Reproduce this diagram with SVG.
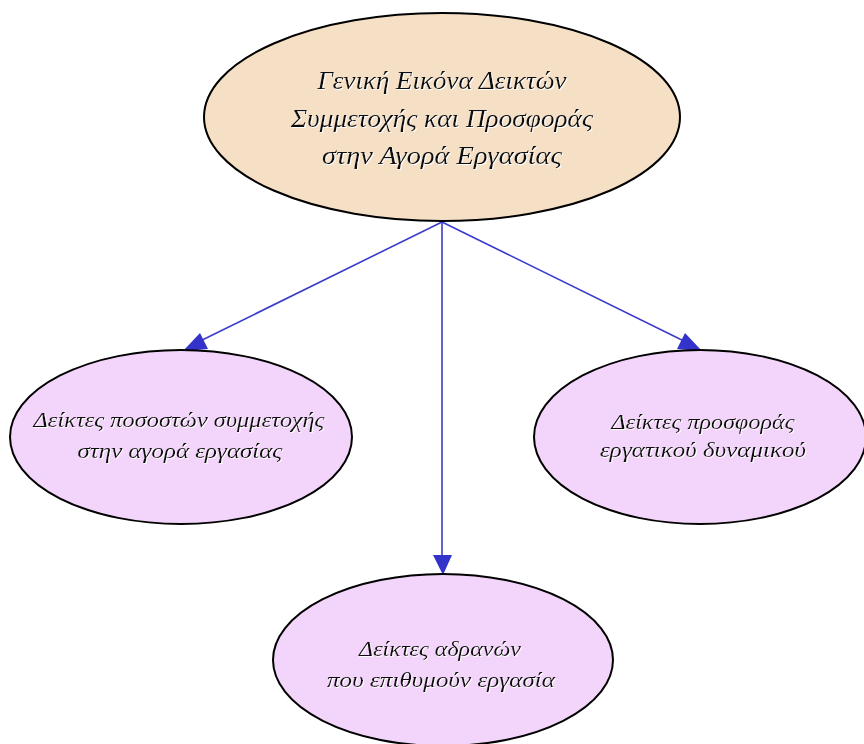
<svg xmlns="http://www.w3.org/2000/svg" width="864" height="744" viewBox="0 0 864 744">
<defs>
<style>
.node ellipse{stroke:#000;stroke-width:2}
.top ellipse{fill:#f5dfc5}
.leaf ellipse{fill:#f3d4fa}
text{font-family:"Liberation Serif","DejaVu Serif",serif;font-style:italic;fill:#111;text-anchor:middle;filter:url(#sh)}
.t1{font-size:25px}
.t2{font-size:22px}
.edge{stroke:#3b3bcc;stroke-width:1.6;fill:none}
.head{fill:#3333cc}
</style>
<filter id="sh" x="-5%" y="-20%" width="110%" height="140%">
<feDropShadow dx="1" dy="1" stdDeviation="0.3" flood-color="#fff" flood-opacity="1"/>
</filter>
</defs>
<rect width="864" height="744" fill="#fff"/>
<g id="edges">
<line class="edge" x1="442" y1="222" x2="190" y2="346"/>
<path class="head" d="M200,333 L183,351 L208,349 z"/>
<line class="edge" x1="442" y1="222" x2="694" y2="346"/>
<path class="head" d="M685,333 L702,351 L677,349 z"/>
<line class="edge" x1="442" y1="222" x2="442" y2="560"/>
<path class="head" d="M433,555 L443,575 L452,555 z"/>
</g>
<g id="n0" class="node top">
<ellipse cx="442" cy="117" rx="238" ry="104"/>
<text class="t1" x="442" y="89" textLength="249" lengthAdjust="spacingAndGlyphs">Γενική Εικόνα Δεικτών</text>
<text class="t1" x="442" y="127" textLength="302" lengthAdjust="spacingAndGlyphs">Συμμετοχής και Προσφοράς</text>
<text class="t1" x="442" y="164" textLength="240" lengthAdjust="spacingAndGlyphs">στην Αγορά Εργασίας</text>
</g>
<g id="n1" class="node leaf">
<ellipse cx="181" cy="437" rx="171" ry="87"/>
<text class="t2" x="179" y="427" textLength="291" lengthAdjust="spacingAndGlyphs">Δείκτες ποσοστών συμμετοχής</text>
<text class="t2" x="180" y="458" textLength="205" lengthAdjust="spacingAndGlyphs">στην αγορά εργασίας</text>
</g>
<g id="n2" class="node leaf">
<ellipse cx="700" cy="437" rx="166" ry="87"/>
<text class="t2" x="703" y="429" textLength="183" lengthAdjust="spacingAndGlyphs">Δείκτες προσφοράς</text>
<text class="t2" x="703" y="457" textLength="206" lengthAdjust="spacingAndGlyphs">εργατικού δυναμικού</text>
</g>
<g id="n3" class="node leaf">
<ellipse cx="443" cy="660" rx="170" ry="86"/>
<text class="t2" x="440" y="656" textLength="162" lengthAdjust="spacingAndGlyphs">Δείκτες αδρανών</text>
<text class="t2" x="441" y="687" textLength="228" lengthAdjust="spacingAndGlyphs">που επιθυμούν εργασία</text>
</g>
</svg>
